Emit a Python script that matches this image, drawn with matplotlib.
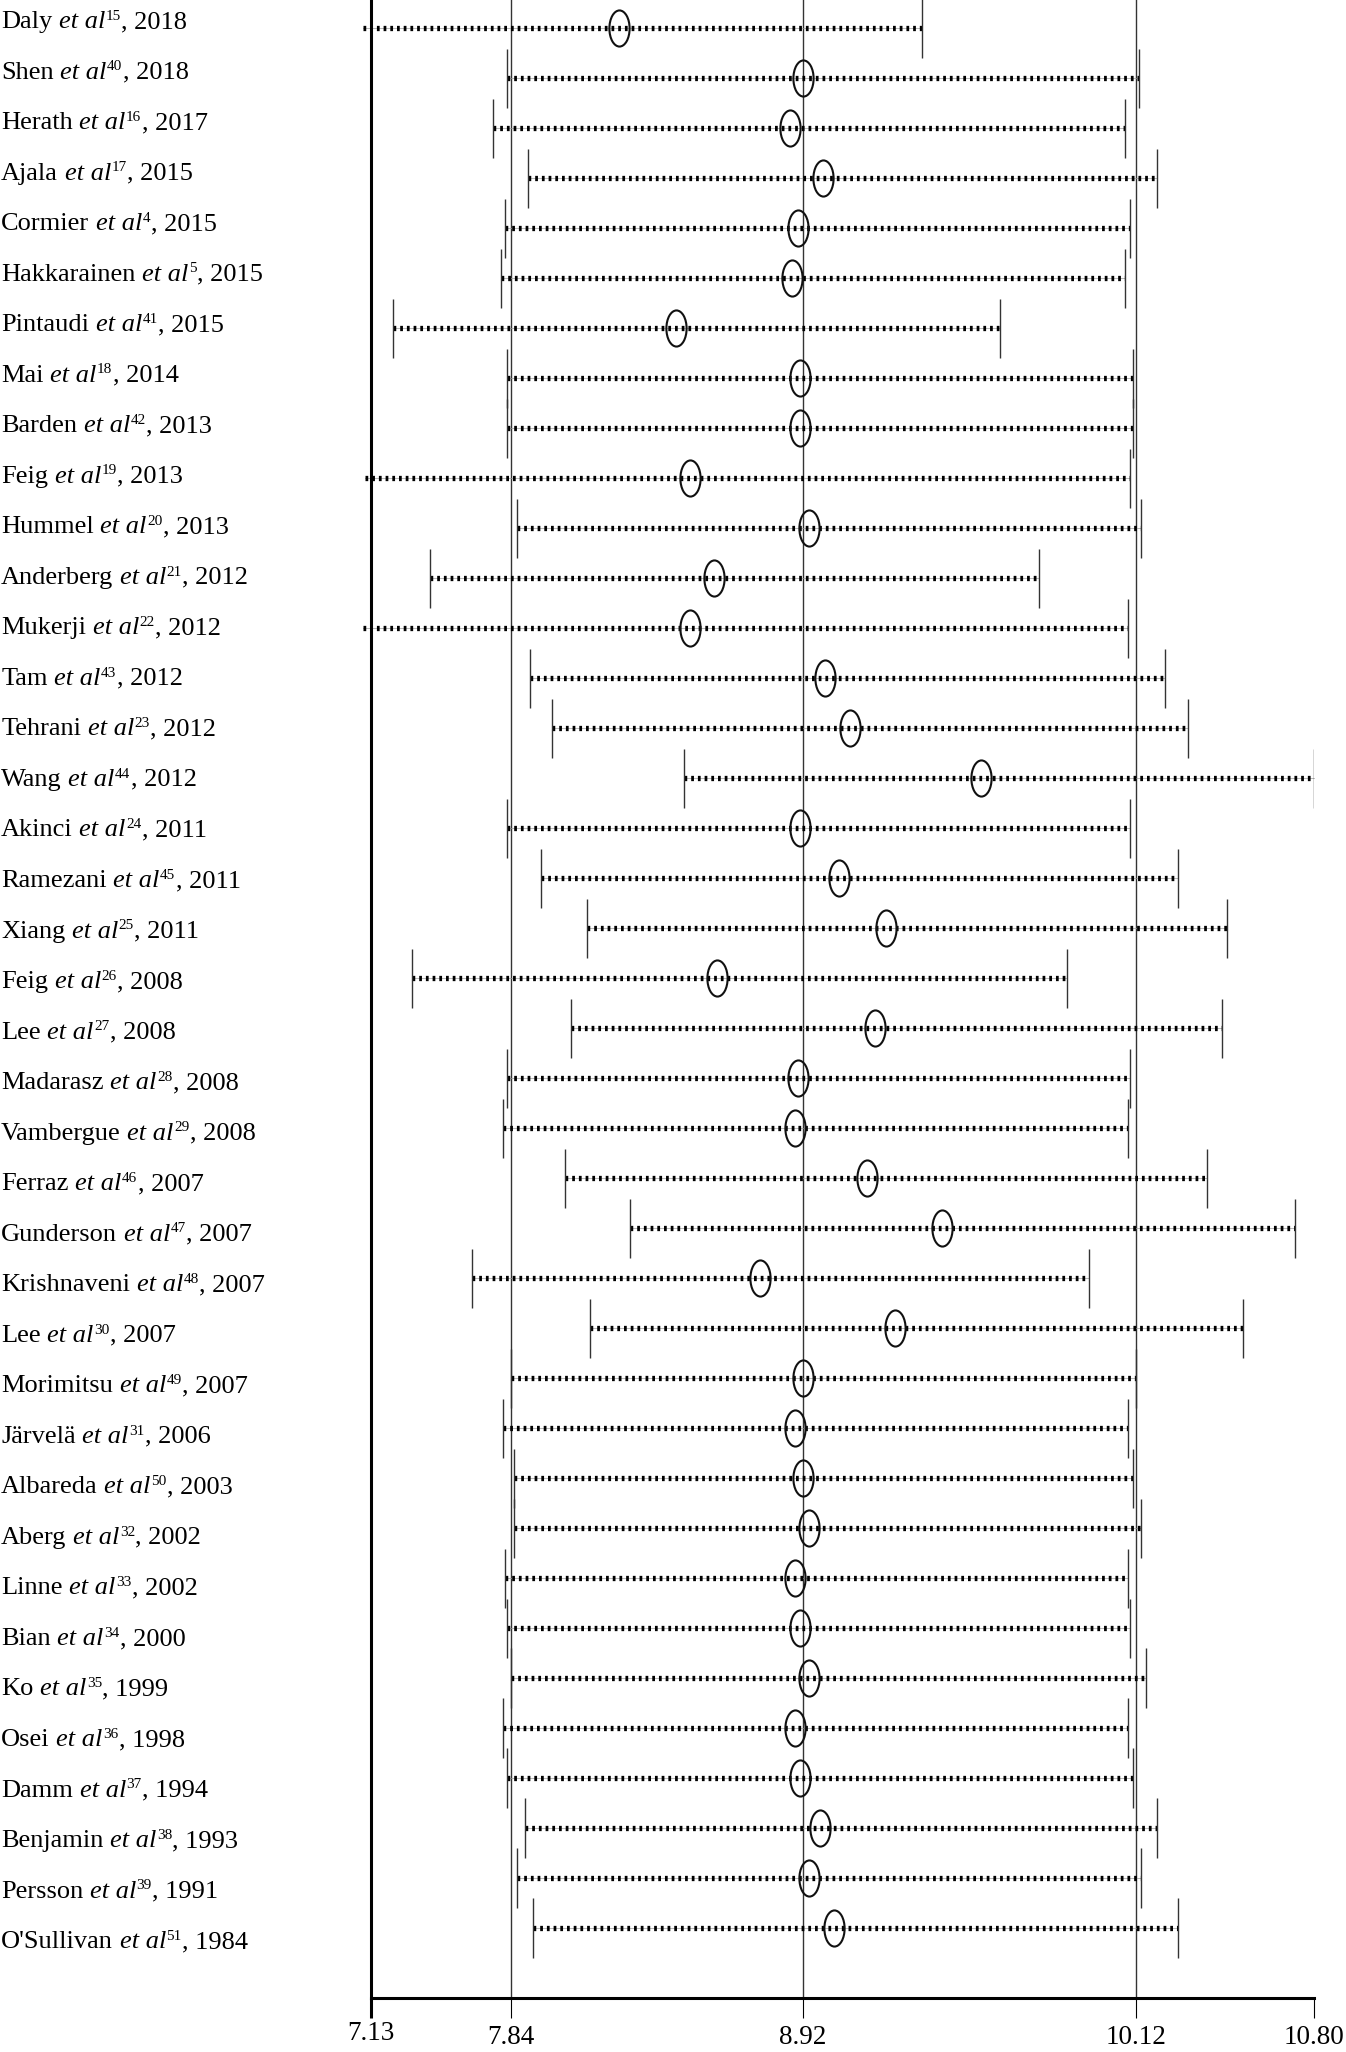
import numpy as np
import matplotlib
matplotlib.use('Agg')
import matplotlib.pyplot as plt
from matplotlib.path import Path
from matplotlib.transforms import Affine2D, ScaledTranslation, blended_transform_factory

# study labels
authors = ['Daly', 'Shen', 'Herath', 'Ajala', 'Cormier', 'Hakkarainen', 'Pintaudi',
           'Mai', 'Barden', 'Feig', 'Hummel', 'Anderberg', 'Mukerji', 'Tam', 'Tehrani',
           'Wang', 'Akinci', 'Ramezani', 'Xiang', 'Feig', 'Lee', 'Madarasz', 'Vambergue',
           'Ferraz', 'Gunderson', 'Krishnaveni', 'Lee', 'Morimitsu', 'Järvelä', 'Albareda',
           'Aberg', 'Linne', 'Bian', 'Ko', 'Osei', 'Damm', 'Benjamin', 'Persson', "O'Sullivan"]
refs = [15, 40, 16, 17, 4, 5, 41, 18, 42, 19, 20, 21, 22, 43, 23, 44, 24, 45, 25, 26,
        27, 28, 29, 46, 47, 48, 30, 49, 31, 50, 32, 33, 34, 35, 36, 37, 38, 39, 51]
years = [2018, 2018, 2017, 2015, 2015, 2015, 2015, 2014, 2013, 2013, 2013, 2012, 2012,
         2012, 2012, 2012, 2011, 2011, 2011, 2008, 2008, 2008, 2008, 2007, 2007, 2007,
         2007, 2007, 2006, 2003, 2002, 2002, 2000, 1999, 1998, 1994, 1993, 1991, 1984]

# estimates and confidence limits
lower = [7.09, 7.82, 7.75, 7.90, 7.81, 7.79, 7.24, 7.82, 7.82, 7.10, 7.86, 7.43, 7.09,
         7.91, 7.99, 8.48, 7.82, 7.95, 8.12, 7.34, 8.06, 7.82, 7.80, 8.04, 8.28, 7.64,
         8.13, 7.84, 7.80, 7.85, 7.85, 7.81, 7.82, 7.84, 7.80, 7.82, 7.89, 7.86, 7.92]
estimate = [8.24, 8.92, 8.87, 8.99, 8.90, 8.88, 8.45, 8.91, 8.91, 8.50, 8.94, 8.59, 8.50,
            9.00, 9.09, 9.56, 8.91, 9.05, 9.22, 8.60, 9.18, 8.90, 8.89, 9.15, 9.42, 8.76,
            9.25, 8.92, 8.89, 8.92, 8.94, 8.89, 8.91, 8.94, 8.89, 8.91, 8.98, 8.94, 9.03]
upper = [9.35, 10.13, 10.08, 10.20, 10.10, 10.08, 9.63, 10.11, 10.11, 10.10, 10.14, 9.77,
         10.09, 10.23, 10.32, 10.80, 10.10, 10.28, 10.47, 9.87, 10.45, 10.10, 10.09, 10.39,
         10.73, 9.95, 10.53, 10.12, 10.09, 10.11, 10.14, 10.09, 10.10, 10.16, 10.09, 10.11,
         10.20, 10.14, 10.28]

tick_values = [7.13, 7.84, 8.92, 10.12, 10.80]
ref_lines = [7.84, 8.92, 10.12]

# the printed axis is not evenly spaced, so use a piecewise scale
scale_vals = np.array([6.13] + tick_values + [11.80])
scale_pos = np.array([172.9, 370.8, 511.3, 803.1, 1136.0, 1313.7, 1574.7])


def forward(v):
    return np.interp(v, scale_vals, scale_pos)


def inverse(p):
    return np.interp(p, scale_pos, scale_vals)


plt.rcParams['font.family'] = 'Liberation Serif'

fs = 19.0
label_step = 50.53 / 50.0   # the study names sit on a slightly wider pitch than the rows

fig = plt.figure(figsize=(13.46, 20.52), dpi=100)
ax = fig.add_axes([370.8 / 1346, 54 / 2052, (1313.7 - 370.8) / 1346, 1998 / 2052])
ax.set_xscale('function', functions=(forward, inverse))
ax.set_xlim(tick_values[0], tick_values[-1])
n = len(authors)
ax.set_ylim(39.4, -0.56)

for xv in ref_lines:
    ax.axvline(xv, color='#333333', lw=1.0, zorder=1)

# elongated open circle marker
ellipse = Path.unit_circle().transformed(Affine2D().scale(0.56, 1.0))
trans = blended_transform_factory(fig.transFigure, ax.transData)

for i in range(n):
    # faint hairline under the dotted interval
    ax.plot([lower[i], upper[i]], [i, i], color='#999999', lw=0.5,
            clip_on=False, zorder=2)
    ax.plot([lower[i], upper[i]], [i, i], color='black', lw=3.8,
            ls=(0, (0.52, 0.75)), dash_capstyle='butt', clip_on=False, zorder=2)
    ends = [v for v in (lower[i], upper[i]) if v >= tick_values[0]]
    ax.vlines(ends, i - 0.59, i + 0.59, color='#333333', lw=1.0, zorder=2)
    ax.plot(estimate[i], i, marker=ellipse, ms=26, mfc='none', mec='#111111',
            mew=1.5, zorder=3)

    # "Name et al^ref, year" built from pieces so the superscript stays small
    yl = i * label_step
    t1 = ax.text(0.0008, yl, authors[i], transform=trans, fontsize=fs,
                 ha='left', va='baseline')
    t2 = ax.annotate('et al', xy=(1, 0), xycoords=t1, xytext=(4.8, 0),
                     textcoords='offset points', fontsize=fs, style='italic',
                     ha='left', va='bottom')
    t3 = ax.annotate(str(refs[i]), xy=(1, 0), xycoords=t2, xytext=(0.2, 7.4),
                     textcoords='offset points', fontsize=fs * 0.58,
                     ha='left', va='bottom')
    ax.annotate(f', {years[i]}', xy=(1, 0), xycoords=(t3, t2), xytext=(0.3, 0),
                textcoords='offset points', fontsize=fs, ha='left', va='bottom')

for side in ['top', 'right']:
    ax.spines[side].set_visible(False)
ax.spines['left'].set_linewidth(2.2)
ax.spines['bottom'].set_linewidth(2.2)
ax.set_yticks([])
ax.set_xticks(tick_values)
ax.set_xticklabels([f'{v:.2f}' for v in tick_values])
ax.xaxis.set_minor_locator(matplotlib.ticker.NullLocator())
ax.tick_params(axis='x', direction='out', length=14.4, width=0.8, pad=5,
               labelsize=19.5, color='black')
ticks = ax.xaxis.get_major_ticks()
ticks[0].tick1line.set_markeredgewidth(2.2)
ticks[0].label1.set_transform(ticks[0].label1.get_transform() +
                              ScaledTranslation(0, 0.04, fig.dpi_scale_trans))

fig.savefig('out.png', dpi=100)
